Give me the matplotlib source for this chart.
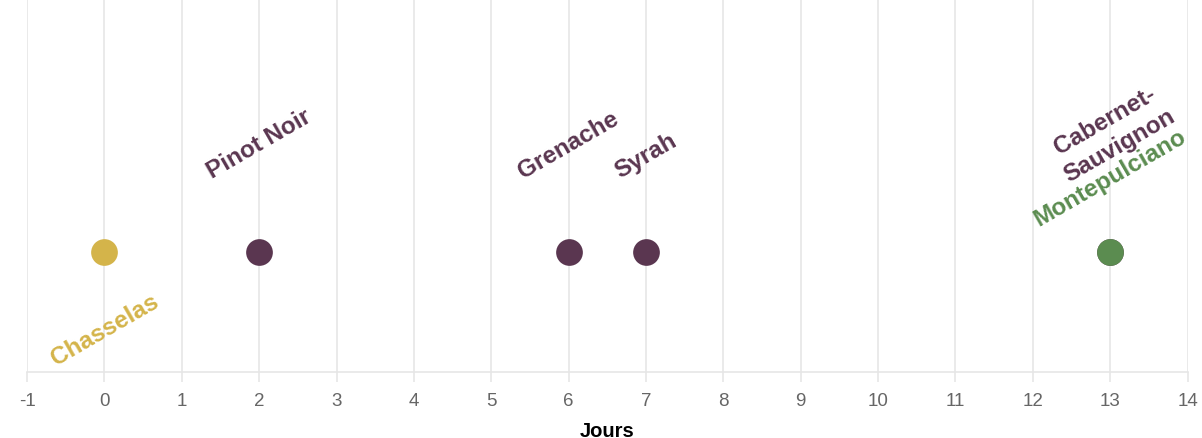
import matplotlib.pyplot as plt

plt.rcParams['font.family'] = ['Liberation Sans', 'DejaVu Sans']

# cépages et jours
cepages = ["Chasselas", "Pinot Noir", "Grenache", "Syrah", "Cabernet-\nSauvignon", "Montepulciano"]
jours = [0, 2, 6, 7, 13, 13]
couleurs = ["#d4b44a", "#5a3650", "#5a3650", "#5a3650", "#5a3650", "#5b8c50"]
x_ticks = list(range(-1, 15))

# label placement (side, shift in px from point centre)
cote = ["below", "above", "above", "above", "above", "above"]
decal_x = [0, 0, 0, 0, 2, 0]
decal_y = [37, 70, 70, 70, 66, 22]

fig = plt.figure(figsize=(12.02, 4.39), dpi=100)
ax = fig.add_axes([0.0225, 0.15, 0.9655, 0.85])

y_pt = 0.322
for nom, j, c, side, dx, dy in zip(cepages, jours, couleurs, cote, decal_x, decal_y):
    ax.scatter([j], [y_pt], s=370, color=c, zorder=3, linewidths=0)
    if side == "above":
        ax.annotate(nom, (j, y_pt), xytext=(dx, dy), textcoords='offset pixels',
                    ha='center', va='bottom', rotation=30, color=c,
                    fontsize=17.5, fontweight='bold', multialignment='center',
                    linespacing=1.35)
    else:
        ax.annotate(nom, (j, y_pt), xytext=(dx, -dy), textcoords='offset pixels',
                    ha='center', va='top', rotation=30, color=c,
                    fontsize=17.5, fontweight='bold')

ax.set_xlim(-1, 14)
ax.set_ylim(0, 1)
ax.set_xticks(x_ticks)
ax.set_xticklabels([str(t) for t in x_ticks])
ax.set_yticks([])
ax.grid(axis='x', color='#e6e6e6', linewidth=1.2)
ax.set_axisbelow(True)
for s in ['top', 'right', 'left']:
    ax.spines[s].set_visible(False)
ax.spines['bottom'].set_color('#e6e6e6')
ax.spines['bottom'].set_linewidth(1.2)
ax.tick_params(axis='x', colors='#e6e6e6', labelcolor='#666666', labelsize=13.5,
               length=7, width=1.2, pad=7)
ax.set_xlabel("Jours", fontsize=14.5, fontweight='bold', color='black', labelpad=9)

plt.savefig("out.png", dpi=100)
